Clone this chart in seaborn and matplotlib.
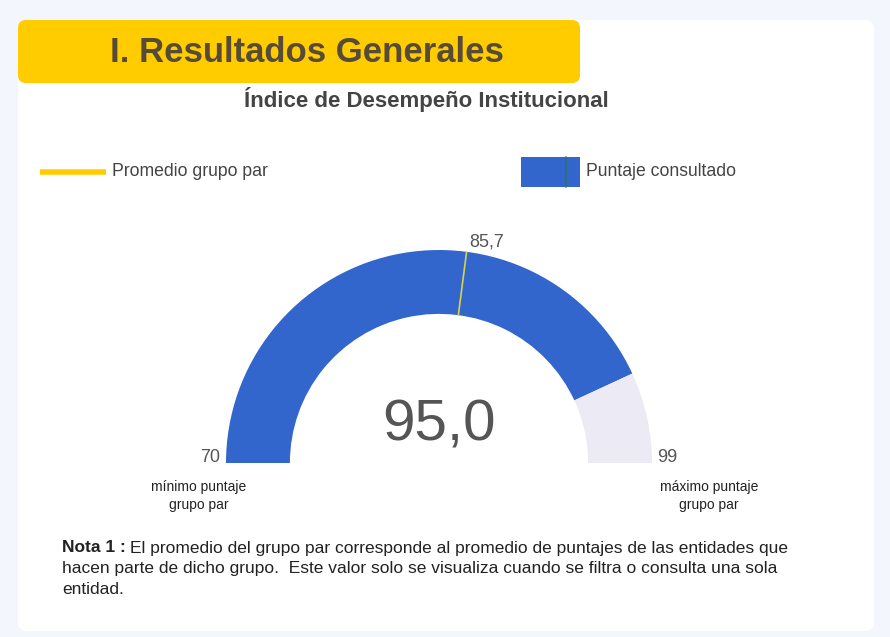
import numpy as np
import matplotlib
matplotlib.use("Agg")
import matplotlib.pyplot as plt
from matplotlib.patches import FancyBboxPatch, Rectangle
import seaborn as sns

# ---- data ----
score_min = 70
score_max = 99
score = 95.0
peer_avg = 85.7
legend_labels = ["Promedio grupo par", "Puntaje consultado"]
min_label = "mínimo puntaje\ngrupo par"
max_label = "máximo puntaje\ngrupo par"

W, H = 890, 637
BLUE = "#3366cc"
REST = "#ecebf5"
YELLOW = "#ffcc00"

sns.set_theme(style="white")
plt.rcParams["font.family"] = ["Liberation Sans", "DejaVu Sans"]

fig = plt.figure(figsize=(W / 100, H / 100), dpi=100)
fig.patch.set_facecolor("#f3f6fd")

ax = fig.add_axes([0, 0, 1, 1])
ax.set_xlim(0, W)
ax.set_ylim(H, 0)
ax.axis("off")

# white card + yellow header
ax.add_patch(FancyBboxPatch((18, 20), 856, 611, boxstyle="round,pad=0,rounding_size=9",
                            facecolor="white", edgecolor="none"))
ax.add_patch(FancyBboxPatch((18, 20), 562, 63, boxstyle="round,pad=0,rounding_size=8",
                            facecolor=YELLOW, edgecolor="none"))
ax.text(307, 53, "I. Resultados Generales", ha="center", va="center",
        fontsize=25, fontweight="bold", color="#574a36")
ax.text(426, 100, "Índice de Desempeño Institucional", ha="center", va="center",
        fontsize=16, fontweight="bold", color="#444444")

# legend
ax.plot([40, 106], [172, 172], color=YELLOW, lw=4, solid_capstyle="butt")
ax.text(112, 172, legend_labels[0], ha="left", va="center", fontsize=12.7, color="#444444")
ax.add_patch(Rectangle((521, 157), 59, 30, facecolor=BLUE, edgecolor="none"))
ax.plot([566, 566], [157, 187], color="#2f6f6a", lw=1.2)
ax.text(586, 172, legend_labels[1], ha="left", va="center", fontsize=12.7, color="#444444")

# gauge
cx, cy, R = 439, 463, 213
half = 1.25 * R
gx = fig.add_axes([(cx - half) / W, (H - cy - half) / H, 2 * half / W, 2 * half / H])
gx.patch.set_alpha(0)
span = score_max - score_min
gx.pie([score - score_min, score_max - score, span], colors=[BLUE, REST, "none"],
       startangle=180, counterclock=False,
       wedgeprops=dict(width=0.30, edgecolor="none", linewidth=0))
gx.set_xlim(-1.25, 1.25)
gx.set_ylim(-1.25, 1.25)

theta = np.deg2rad(180 - 180 * (peer_avg - score_min) / span)
gx.plot([0.70 * np.cos(theta), 1.0 * np.cos(theta)],
        [0.70 * np.sin(theta), 1.0 * np.sin(theta)], color="#d4d44a", lw=1.2)
gx.text(1.0 * np.cos(theta) + 0.012, 1.0 * np.sin(theta) + 0.005, f"{peer_avg:.1f}".replace(".", ","),
        ha="left", va="bottom", fontsize=13, color="#555555")

ax.text(cx, 441, f"{score:.1f}".replace(".", ","), ha="center", va="baseline",
        fontsize=42, color="#555555")
ax.text(220, 458, str(score_min), ha="right", va="center", fontsize=13, color="#555555")
ax.text(657, 458, str(score_max), ha="left", va="center", fontsize=13, color="#555555")
ax.text(199, 496, min_label, ha="center", va="center", fontsize=10, color="#222222",
        linespacing=1.3)
ax.text(709, 496, max_label, ha="center", va="center", fontsize=10, color="#222222",
        linespacing=1.3)

# note
t = ax.text(62, 548, "Nota 1 :", ha="left", va="center", fontsize=12.5,
            fontweight="bold", color="#222222")
fig.canvas.draw()
bb = t.get_window_extent(renderer=fig.canvas.get_renderer())
x_after = bb.x1 + 4
ax.text(x_after, 548, "El promedio del grupo par corresponde al promedio de puntajes de las entidades que",
        ha="left", va="center", fontsize=12.5, color="#222222")
ax.text(62, 569, "hacen parte de dicho grupo.  Este valor solo se visualiza cuando se filtra o consulta una sola",
        ha="left", va="center", fontsize=12.5, color="#222222")
ax.text(62, 590, "entidad.", ha="left", va="center", fontsize=12.5, color="#222222")

fig.savefig("out.png", dpi=100, facecolor=fig.get_facecolor())
